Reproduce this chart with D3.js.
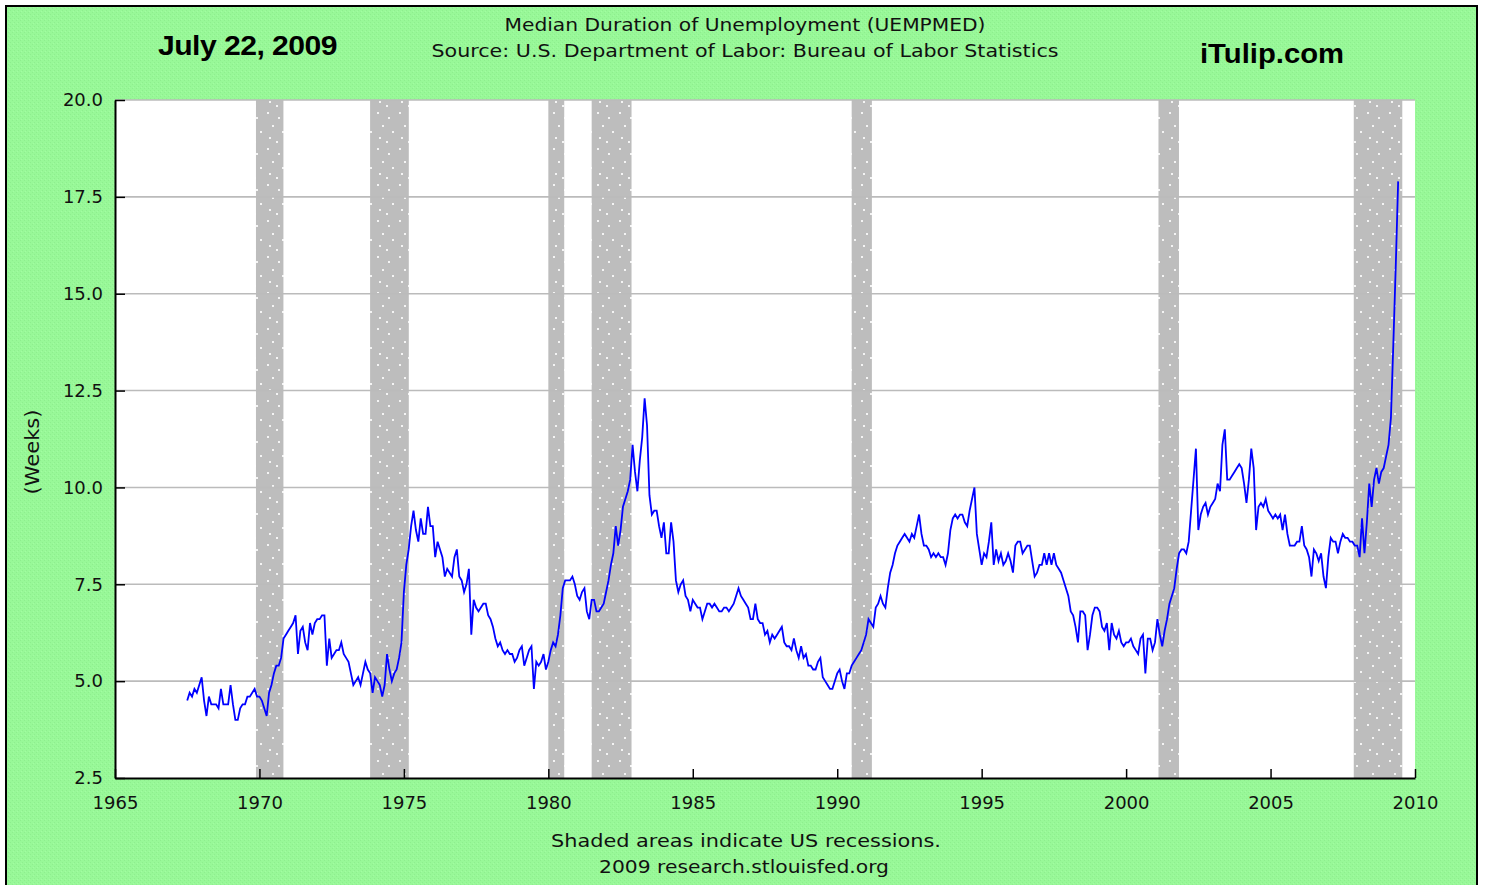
<!DOCTYPE html>
<html>
<head>
<meta charset="utf-8">
<script src="https://cdn.jsdelivr.net/npm/d3@7"></script>
<style>
html, body { margin: 0; padding: 0; background: #ffffff; }
svg { display: block; }
</style>
</head>
<body>
<div id="chart"></div>
<script>
// Median duration of unemployment, weeks, monthly from Jul 1967
const startYear = 1967, startMonth = 6;

const weeks1960s = [
  4.5, 4.7, 4.6, 4.8, 4.7, 4.9,                            // 1967 Jul-Dec
  5.1, 4.5, 4.1, 4.6, 4.4, 4.4, 4.4, 4.3, 4.8, 4.4, 4.4, 4.4, // 1968
  4.9, 4.4, 4.0, 4.0, 4.3, 4.4, 4.4, 4.6, 4.6, 4.7, 4.8, 4.6  // 1969
];
const weeks1970s = [
  4.6, 4.5, 4.3, 4.1, 4.7, 4.9, 5.2, 5.4, 5.4, 5.6, 6.1, 6.2, // 1970
  6.3, 6.4, 6.5, 6.7, 5.7, 6.3, 6.4, 6.0, 5.8, 6.5, 6.2, 6.5, // 1971
  6.6, 6.6, 6.7, 6.7, 5.4, 6.1, 5.6, 5.7, 5.8, 5.8, 6.0, 5.7, // 1972
  5.6, 5.5, 5.2, 4.9, 5.0, 5.1, 4.9, 5.2, 5.5, 5.3, 5.2, 4.7, // 1973
  5.1, 5.0, 4.9, 4.6, 4.9, 5.7, 5.3, 5.0, 5.2, 5.3, 5.6, 6.0, // 1974
  7.3, 8.0, 8.4, 9.0, 9.4, 8.9, 8.6, 9.2, 8.8, 8.8, 9.5, 9.0, // 1975
  9.0, 8.2, 8.6, 8.4, 8.2, 7.7, 7.9, 7.8, 7.7, 8.2, 8.4, 7.7, // 1976
  7.6, 7.3, 7.5, 7.9, 6.2, 7.1, 6.9, 6.8, 6.9, 7.0, 7.0, 6.7, // 1977
  6.6, 6.4, 6.1, 5.9, 6.0, 5.8, 5.7, 5.8, 5.7, 5.7, 5.5, 5.6, // 1978
  5.8, 5.9, 5.4, 5.6, 5.8, 5.9, 4.8, 5.5, 5.4, 5.5, 5.7, 5.3  // 1979
];
const weeks1980s = [
  5.5, 5.8, 6.0, 5.9, 6.2, 6.7, 7.4, 7.6, 7.6, 7.6, 7.7, 7.5, // 1980
  7.2, 7.1, 7.3, 7.4, 6.8, 6.6, 7.1, 7.1, 6.8, 6.8, 6.9, 7.0, // 1981
  7.3, 7.6, 8.0, 8.3, 9.0, 8.5, 8.9, 9.5, 9.7, 9.9, 10.2, 11.1, // 1982
  10.4, 9.9, 10.7, 11.3, 12.3, 11.6, 9.8, 9.3, 9.4, 9.4, 9.0, 8.7, // 1983
  9.1, 8.3, 8.3, 9.1, 8.6, 7.6, 7.3, 7.5, 7.6, 7.2, 7.1, 6.8, // 1984
  7.1, 7.0, 6.9, 6.9, 6.6, 6.8, 7.0, 7.0, 6.9, 7.0, 6.9, 6.8, // 1985
  6.8, 6.9, 6.9, 6.8, 6.9, 7.0, 7.2, 7.4, 7.2, 7.1, 7.0, 6.9, // 1986
  6.6, 6.6, 7.0, 6.6, 6.5, 6.5, 6.2, 6.3, 6.0, 6.2, 6.1, 6.2, // 1987
  6.3, 6.4, 6.0, 5.9, 5.9, 5.8, 6.1, 5.8, 5.6, 5.9, 5.6, 5.7, // 1988
  5.4, 5.4, 5.3, 5.3, 5.5, 5.6, 5.1, 5.0, 4.9, 4.8, 4.8, 5.0  // 1989
];
const weeks1990s = [
  5.2, 5.3, 5.0, 4.8, 5.2, 5.2, 5.4, 5.5, 5.6, 5.7, 5.8, 6.0, // 1990
  6.2, 6.6, 6.5, 6.4, 6.9, 7.0, 7.2, 7.0, 6.9, 7.4, 7.8, 8.0, // 1991
  8.3, 8.5, 8.6, 8.7, 8.8, 8.7, 8.6, 8.8, 8.7, 9.0, 9.3, 8.8, // 1992
  8.5, 8.5, 8.4, 8.2, 8.3, 8.2, 8.3, 8.2, 8.2, 8.0, 8.3, 8.9, // 1993
  9.2, 9.3, 9.2, 9.3, 9.3, 9.1, 9.0, 9.4, 9.7, 10.0, 8.8, 8.4, // 1994
  8.0, 8.3, 8.2, 8.6, 9.1, 8.0, 8.4, 8.1, 8.3, 8.0, 8.1, 8.3, // 1995
  8.1, 7.8, 8.5, 8.6, 8.6, 8.3, 8.4, 8.5, 8.5, 8.1, 7.7, 7.8, // 1996
  8.0, 8.0, 8.3, 8.0, 8.3, 8.0, 8.3, 8.0, 7.9, 7.8, 7.6, 7.4, // 1997
  7.2, 6.8, 6.7, 6.4, 6.0, 6.8, 6.8, 6.7, 5.8, 6.2, 6.7, 6.9, // 1998
  6.9, 6.8, 6.4, 6.3, 6.5, 5.8, 6.5, 6.2, 6.1, 6.3, 6.0, 5.9  // 1999
];
const weeks2000s = [
  6.0, 6.0, 6.1, 5.9, 5.8, 5.7, 6.1, 6.2, 5.2, 6.1, 6.1, 5.8, // 2000
  6.0, 6.6, 6.2, 5.9, 6.3, 6.6, 7.0, 7.2, 7.4, 7.9, 8.3, 8.4, // 2001
  8.4, 8.3, 8.6, 9.4, 10.2, 11.0, 8.9, 9.3, 9.5, 9.6, 9.3, 9.5, // 2002
  9.6, 9.7, 10.1, 9.9, 11.1, 11.5, 10.2, 10.2, 10.3, 10.4, 10.5, 10.6, // 2003
  10.5, 10.1, 9.6, 10.2, 11.0, 10.5, 8.9, 9.5, 9.6, 9.5, 9.7, 9.4, // 2004
  9.3, 9.2, 9.3, 9.2, 9.3, 8.9, 9.3, 8.8, 8.5, 8.5, 8.5, 8.6, // 2005
  8.6, 9.0, 8.5, 8.4, 8.2, 7.7, 8.4, 8.3, 8.1, 8.3, 7.7, 7.4, // 2006
  8.2, 8.7, 8.6, 8.6, 8.3, 8.6, 8.8, 8.7, 8.7, 8.6, 8.6, 8.5, // 2007
  8.5, 8.2, 9.2, 8.3, 9.1, 10.1, 9.5, 10.2, 10.5, 10.1, 10.4, 10.5, // 2008
  10.8, 11.1, 11.8, 13.7, 15.7, 17.9                          // 2009 Jan-Jun
];

// US recessions (decimal years)
const recessionStart = [1969.88, 1973.83, 1980.0, 1981.5, 1990.5, 2001.12, 2007.88];
const recessionEnd   = [1970.83, 1975.17, 1980.55, 1982.88, 1991.2, 2001.83, 2009.56];

const xTicks = [1965, 1970, 1975, 1980, 1985, 1990, 1995, 2000, 2005, 2010];
const yTicks = [2.5, 5.0, 7.5, 10.0, 12.5, 15.0, 17.5, 20.0];

const series = weeks1960s.concat(weeks1970s, weeks1980s, weeks1990s, weeks2000s)
  .map((v, i) => ({ t: startYear + (startMonth + i) / 12, v: v }));

const width = 1485, height = 885;
const plot = { left: 115, right: 1415, top: 100, bottom: 778 };

const svg = d3.select("#chart").append("svg")
  .attr("width", width)
  .attr("height", height);

const defs = svg.append("defs");

// faint texture on the green frame
const bgPat = defs.append("pattern")
  .attr("id", "bgTex")
  .attr("width", 4).attr("height", 4)
  .attr("patternUnits", "userSpaceOnUse");
bgPat.append("rect").attr("width", 4).attr("height", 4).attr("fill", "#98f898");
bgPat.append("rect").attr("x", 0).attr("y", 0).attr("width", 1).attr("height", 1).attr("fill", "#8eee8e");
bgPat.append("rect").attr("x", 2).attr("y", 2).attr("width", 1).attr("height", 1).attr("fill", "#8eee8e");
bgPat.append("rect").attr("x", 1).attr("y", 3).attr("width", 1).attr("height", 1).attr("fill", "#a2fca2");

// stippled grey for recession bars
const recPat = defs.append("pattern")
  .attr("id", "recTex")
  .attr("width", 22).attr("height", 36)
  .attr("patternUnits", "userSpaceOnUse");
recPat.append("rect").attr("width", 22).attr("height", 36).attr("fill", "#bdbdbd");
[[3, 4], [14, 9], [8, 17], [18, 23], [5, 29], [12, 33]].forEach(p => {
  recPat.append("rect").attr("x", p[0]).attr("y", p[1])
    .attr("width", 2).attr("height", 2).attr("fill", "#f4f4f4");
});

// outer frame
svg.append("rect")
  .attr("x", 6).attr("y", 6)
  .attr("width", 1471).attr("height", 890)
  .attr("fill", "url(#bgTex)")
  .attr("stroke", "#000").attr("stroke-width", 2);

const x = d3.scaleLinear().domain([1965, 2010]).range([plot.left, plot.right]);
const y = d3.scaleLinear().domain([2.5, 20]).range([plot.bottom, plot.top]);

// plot area
svg.append("rect")
  .attr("x", plot.left).attr("y", plot.top)
  .attr("width", plot.right - plot.left)
  .attr("height", plot.bottom - plot.top)
  .attr("fill", "#ffffff");

// recession bars
svg.append("g").selectAll("rect")
  .data(recessionStart.map((s, i) => [s, recessionEnd[i]]))
  .enter().append("rect")
  .attr("x", d => x(d[0]))
  .attr("y", plot.top)
  .attr("width", d => x(d[1]) - x(d[0]))
  .attr("height", plot.bottom - plot.top)
  .attr("fill", "url(#recTex)");

// horizontal grid
svg.append("g").selectAll("line")
  .data(yTicks.filter(t => t > 2.5))
  .enter().append("line")
  .attr("x1", plot.left).attr("x2", plot.right)
  .attr("y1", d => y(d)).attr("y2", d => y(d))
  .attr("stroke", "#bbbbbb").attr("stroke-width", 1.6);

// data line
const line = d3.line().x(d => x(d.t)).y(d => y(d.v));
svg.append("path")
  .datum(series)
  .attr("d", line)
  .attr("fill", "none")
  .attr("stroke", "#0000ff")
  .attr("stroke-width", 1.8)
  .attr("stroke-linejoin", "miter");

// axes
const axisFont = "'DejaVu Sans', Verdana, sans-serif";
const yAxis = svg.append("g")
  .attr("transform", `translate(${plot.left},0)`)
  .call(d3.axisLeft(y).tickValues(yTicks).tickFormat(d3.format(".1f"))
    .tickSizeInner(-10).tickSizeOuter(0).tickPadding(12));
const xAxis = svg.append("g")
  .attr("transform", `translate(0,${plot.bottom})`)
  .call(d3.axisBottom(x).tickValues(xTicks).tickFormat(d3.format("d"))
    .tickSizeInner(-9).tickSizeOuter(0).tickPadding(18));

[yAxis, xAxis].forEach(g => {
  g.select(".domain").attr("stroke", "#000").attr("stroke-width", 2);
  g.selectAll(".tick line").attr("stroke", "#000").attr("stroke-width", 1.5);
  g.selectAll(".tick text")
    .attr("fill", "#111")
    .style("font-family", axisFont)
    .style("font-size", "18px");
});

// y axis title
svg.append("text")
  .attr("transform", "translate(39,452) rotate(-90)")
  .attr("text-anchor", "middle")
  .attr("textLength", 85)
  .attr("lengthAdjust", "spacingAndGlyphs")
  .style("font-family", axisFont)
  .style("font-size", "19px")
  .attr("fill", "#111")
  .text("(Weeks)");

// headers
svg.append("text")
  .attr("x", 745).attr("y", 31)
  .attr("text-anchor", "middle")
  .attr("textLength", 481)
  .attr("lengthAdjust", "spacingAndGlyphs")
  .style("font-family", axisFont)
  .style("font-size", "18px")
  .attr("fill", "#111")
  .text("Median Duration of Unemployment (UEMPMED)");

svg.append("text")
  .attr("x", 745).attr("y", 57)
  .attr("text-anchor", "middle")
  .attr("textLength", 627)
  .attr("lengthAdjust", "spacingAndGlyphs")
  .style("font-family", axisFont)
  .style("font-size", "18px")
  .attr("fill", "#111")
  .text("Source: U.S. Department of Labor: Bureau of Labor Statistics");

svg.append("text")
  .attr("x", 158).attr("y", 55)
  .attr("textLength", 179)
  .attr("lengthAdjust", "spacingAndGlyphs")
  .style("font-family", "'Liberation Sans', Arial, sans-serif")
  .style("font-size", "28px")
  .style("font-weight", "bold")
  .style("letter-spacing", "-0.5px")
  .attr("fill", "#000")
  .text("July 22, 2009");

svg.append("text")
  .attr("x", 1200).attr("y", 63)
  .attr("textLength", 144)
  .attr("lengthAdjust", "spacingAndGlyphs")
  .style("font-family", "'Liberation Sans', Arial, sans-serif")
  .style("font-size", "28px")
  .style("font-weight", "bold")
  .attr("fill", "#000")
  .text("iTulip.com");

// footer
svg.append("text")
  .attr("x", 746).attr("y", 847)
  .attr("text-anchor", "middle")
  .attr("textLength", 390)
  .attr("lengthAdjust", "spacingAndGlyphs")
  .style("font-family", axisFont)
  .style("font-size", "18px")
  .attr("fill", "#111")
  .text("Shaded areas indicate US recessions.");

svg.append("text")
  .attr("x", 744).attr("y", 873)
  .attr("text-anchor", "middle")
  .attr("textLength", 290)
  .attr("lengthAdjust", "spacingAndGlyphs")
  .style("font-family", axisFont)
  .style("font-size", "18px")
  .attr("fill", "#111")
  .text("2009 research.stlouisfed.org");
</script>
</body>
</html>
